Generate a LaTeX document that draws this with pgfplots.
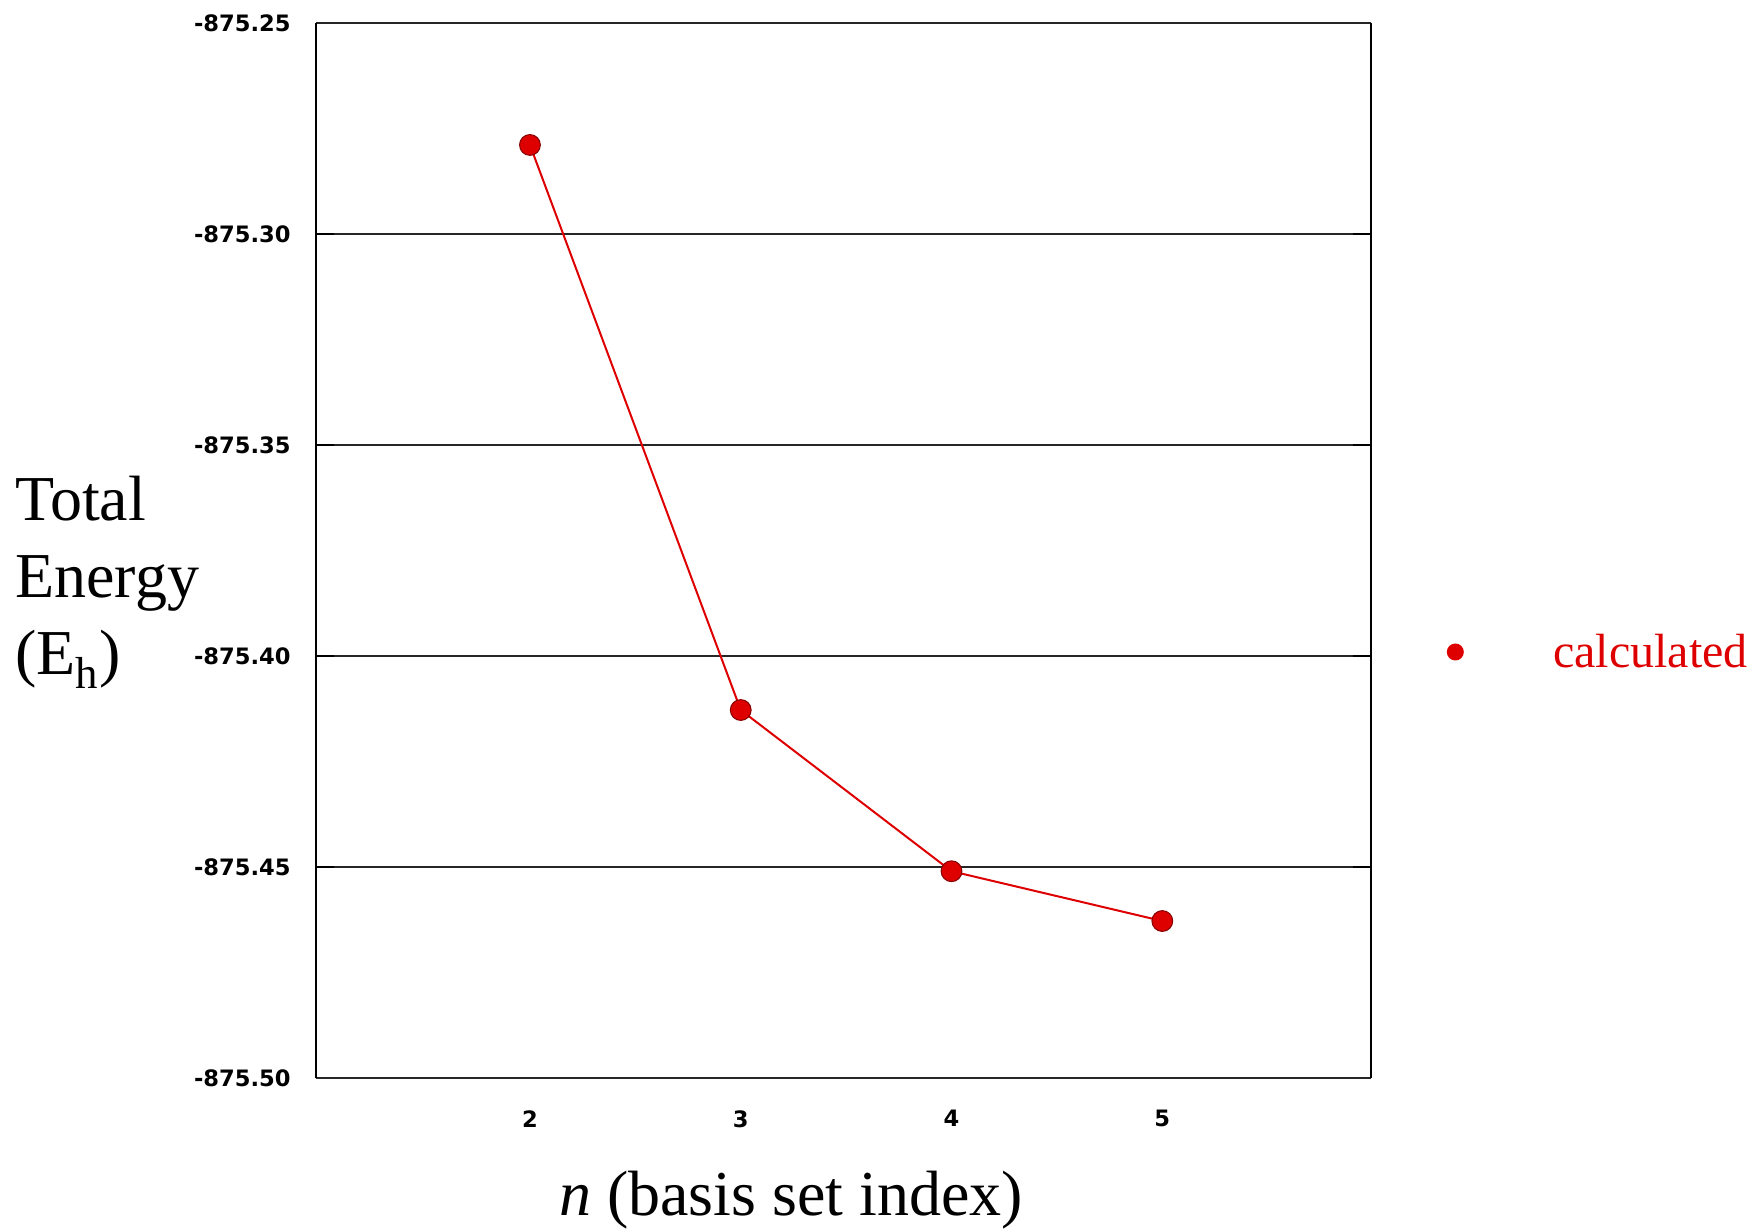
\documentclass[border=0pt]{standalone}
\usepackage{fontspec}
\setmainfont{Liberation Serif}
\newfontfamily\tickfont{DejaVu Sans}
\usepackage{pgfplots}
\pgfplotsset{compat=1.18}
\definecolor{mred}{RGB}{222,0,0}
\begin{document}
\begin{tikzpicture}
\useasboundingbox (0,0) rectangle (876pt,614pt);
\begin{axis}[
  at={(158pt,75pt)}, anchor=south west,
  scale only axis, width=527.5pt, height=527.5pt,
  xmin=0.985, xmax=5.99, ymin=-875.5, ymax=-875.25,
  xtick={2,3,4,5},
  ytick={-875.5,-875.45,-875.4,-875.35,-875.3,-875.25},
  major x tick style={draw=none},
  ytick style={black, line width=1pt},
  major tick length=9pt,
  tick align=inside,
  ytick pos=both,
  ymajorgrids,
  major grid style={black!85, line width=0.7pt},
  separate axis lines,
  x axis line style={black!85, line width=0.7pt},
  y axis line style={black, line width=1.3pt},
  /pgf/number format/assume math mode=true,
  ticklabel style={font=\tickfont\bfseries\fontsize{11.3}{13}\selectfont},
  y tick label style={/pgf/number format/fixed, /pgf/number format/fixed zerofill, /pgf/number format/precision=2, inner sep=0pt, xshift=-12.5pt},
  x tick label style={inner sep=0pt, yshift=-16pt},
  every axis y label/.style={at={(rel axis cs:-0.2853,0.470)}, anchor=west, align=left, inner sep=0pt, font=\fontsize{32}{38.5}\selectfont},
  ylabel={Total\\Energy\\(E\textsubscript{h})},
  every axis x label/.style={at={(rel axis cs:0.4502,-0.1308)}, anchor=base, inner sep=0pt, font=\fontsize{32}{38}\selectfont},
  xlabel={\textit{n} (basis set index)},
  legend style={at={(rel axis cs:1.0715,0.4038)}, anchor=west, draw=none, fill=none, inner sep=0pt, font=\fontsize{24}{28}\selectfont, text=mred, nodes={inner sep=0pt}, column sep=0pt},
  legend image code/.code={\fill[mred, draw=none] (0pt,0pt) circle (4.25pt); \path[draw=none, fill=none] (-4.25pt,0pt) (49pt,0pt);},
]
\addplot[mred, line width=1pt, mark=*, mark size=5.2pt, mark options={fill=mred, draw=mred!60!black, line width=0.5pt}] coordinates {
  (2,-875.2789) (3,-875.4128) (4,-875.4510) (5,-875.4628)
};
\addlegendentry{calculated}
\end{axis}
\end{tikzpicture}
\end{document}
